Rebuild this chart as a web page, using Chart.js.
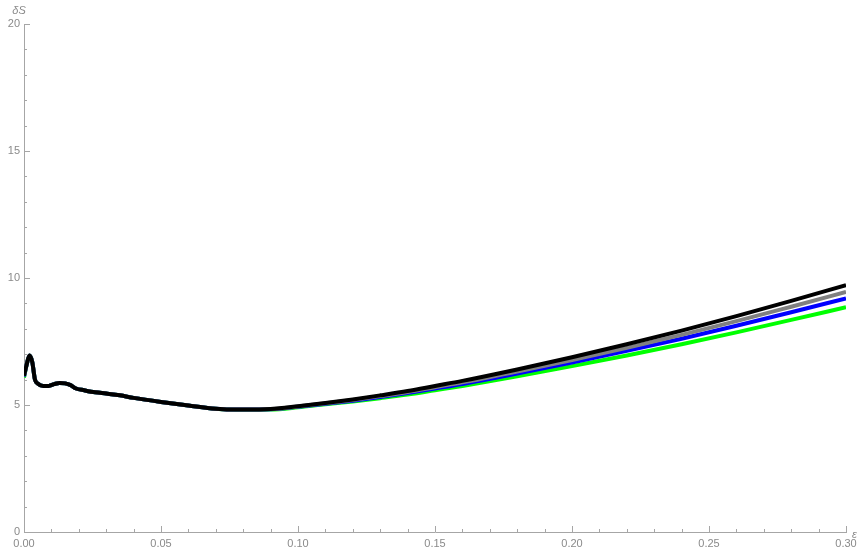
<!DOCTYPE html>
<html>
<head>
<meta charset="utf-8">
<script src="https://cdn.jsdelivr.net/npm/chart.js@4"></script>
<style>
  html, body { margin: 0; padding: 0; background: #fff; }
  #wrap { width: 863px; height: 548px; }
</style>
</head>
<body>
<div id="wrap"><canvas id="deltaSChart"></canvas></div>
<script>
// epsilon values (x)
const eps = [0, 0.001, 0.002, 0.003, 0.004, 0.005, 0.007, 0.009, 0.011, 0.013, 0.015, 0.017, 0.019,
  0.022, 0.026, 0.03, 0.035, 0.04, 0.05, 0.06, 0.07, 0.075, 0.08, 0.09,
  0.10, 0.11, 0.12, 0.13, 0.14, 0.15, 0.16, 0.18, 0.20, 0.22, 0.24, 0.26, 0.28, 0.30];

const blackVals = [6.15, 6.6, 6.95, 6.7, 6.0, 5.85, 5.75, 5.75, 5.82, 5.87, 5.85, 5.78, 5.65,
  5.58, 5.5, 5.45, 5.38, 5.28, 5.12, 4.98, 4.85, 4.82, 4.82, 4.84,
  4.95, 5.08, 5.22, 5.38, 5.55, 5.75, 5.95, 6.4, 6.88, 7.39, 7.93, 8.5, 9.1, 9.72];
const grayVals = [6.14, 6.6, 6.95, 6.7, 6.0, 5.85, 5.75, 5.75, 5.82, 5.87, 5.85, 5.78, 5.65,
  5.58, 5.5, 5.45, 5.38, 5.28, 5.12, 4.98, 4.85, 4.82, 4.82, 4.84,
  4.94, 5.07, 5.2, 5.35, 5.51, 5.7, 5.89, 6.32, 6.77, 7.25, 7.76, 8.3, 8.87, 9.45];
const blueVals = [6.12, 6.6, 6.95, 6.7, 6.0, 5.85, 5.75, 5.75, 5.82, 5.87, 5.85, 5.78, 5.65,
  5.58, 5.5, 5.45, 5.38, 5.28, 5.12, 4.98, 4.85, 4.82, 4.82, 4.83,
  4.93, 5.05, 5.17, 5.31, 5.47, 5.65, 5.83, 6.24, 6.67, 7.13, 7.61, 8.12, 8.65, 9.2];
const greenVals = [6.08, 6.6, 6.95, 6.7, 6.0, 5.85, 5.75, 5.75, 5.82, 5.87, 5.85, 5.78, 5.65,
  5.58, 5.5, 5.45, 5.38, 5.28, 5.12, 4.98, 4.85, 4.82, 4.81, 4.82,
  4.91, 5.03, 5.14, 5.27, 5.41, 5.58, 5.75, 6.13, 6.53, 6.95, 7.39, 7.86, 8.35, 8.85];

const xMajor = [0, 0.05, 0.10, 0.15, 0.20, 0.25, 0.30];
const yMajor = [0, 5, 10, 15, 20];

const axisColor = '#a6a6a6';
const labelColor = '#8a8a8a';
const font = { family: 'Liberation Sans, Arial, sans-serif', size: 11 };

function pts(vals) {
  return eps.map((x, i) => ({ x: x, y: vals[i] }));
}

function line(label, vals, color, order) {
  return {
    label: label,
    data: pts(vals),
    borderColor: color,
    backgroundColor: color,
    borderWidth: 4,
    pointRadius: 0,
    cubicInterpolationMode: 'monotone',
    order: order
  };
}

// inward Mathematica-style ticks and axis names
const axisDecor = {
  id: 'axisDecor',
  afterDraw(chart) {
    const c = chart.ctx;
    const xs = chart.scales.x, ys = chart.scales.y;
    const a = chart.chartArea;
    c.save();
    c.strokeStyle = axisColor;
    c.lineWidth = 1;
    c.beginPath();
    for (let i = 0; i <= 30; i++) {
      const v = i / 100;
      const px = Math.round(xs.getPixelForValue(v)) + 0.5;
      const len = i % 5 === 0 ? 6 : 3;
      c.moveTo(px, a.bottom);
      c.lineTo(px, a.bottom - len);
    }
    for (let i = 0; i <= 20; i++) {
      const py = Math.round(ys.getPixelForValue(i)) + 0.5;
      const len = i % 5 === 0 ? 6 : 3;
      c.moveTo(a.left, py);
      c.lineTo(a.left + len, py);
    }
    c.stroke();
    c.fillStyle = labelColor;
    c.font = 'italic 11px Liberation Sans, Arial, sans-serif';
    c.textAlign = 'center';
    c.textBaseline = 'alphabetic';
    c.fillText('\u03B4S', a.left - 5, a.top - 10);
    c.textAlign = 'left';
    c.fillText('\u03B5', a.right + 6, a.bottom + 6);
    c.restore();
  }
};

const ctx = document.getElementById('deltaSChart').getContext('2d');
const deltaSChart = new Chart(ctx, {
  type: 'line',
  data: {
    datasets: [
      line('black', blackVals, '#000000', 0),
      line('gray', grayVals, '#808080', 1),
      line('blue', blueVals, '#0000ff', 2),
      line('green', greenVals, '#00ff00', 3)
    ]
  },
  options: {
    responsive: true,
    maintainAspectRatio: false,
    animation: false,
    layout: { padding: { top: 24, right: 17, left: 0, bottom: 0 } },
    plugins: { legend: { display: false }, tooltip: { enabled: false } },
    scales: {
      x: {
        type: 'linear',
        min: 0,
        max: 0.3,
        afterFit(s) { s.height = 16; },
        afterBuildTicks(s) { s.ticks = xMajor.map(v => ({ value: v })); },
        grid: { display: false, drawTicks: false },
        border: { color: axisColor, width: 1 },
        ticks: {
          autoSkip: false,
          maxRotation: 0,
          padding: 5,
          color: labelColor,
          font: font,
          callback: v => Number(v).toFixed(2)
        }
      },
      y: {
        min: 0,
        max: 20,
        afterFit(s) { s.width = 24; },
        afterBuildTicks(s) { s.ticks = yMajor.map(v => ({ value: v })); },
        grid: { display: false, drawTicks: false },
        border: { color: axisColor, width: 1 },
        ticks: {
          autoSkip: false,
          padding: 4,
          color: labelColor,
          font: font
        }
      }
    }
  },
  plugins: [axisDecor]
});
</script>
</body>
</html>
